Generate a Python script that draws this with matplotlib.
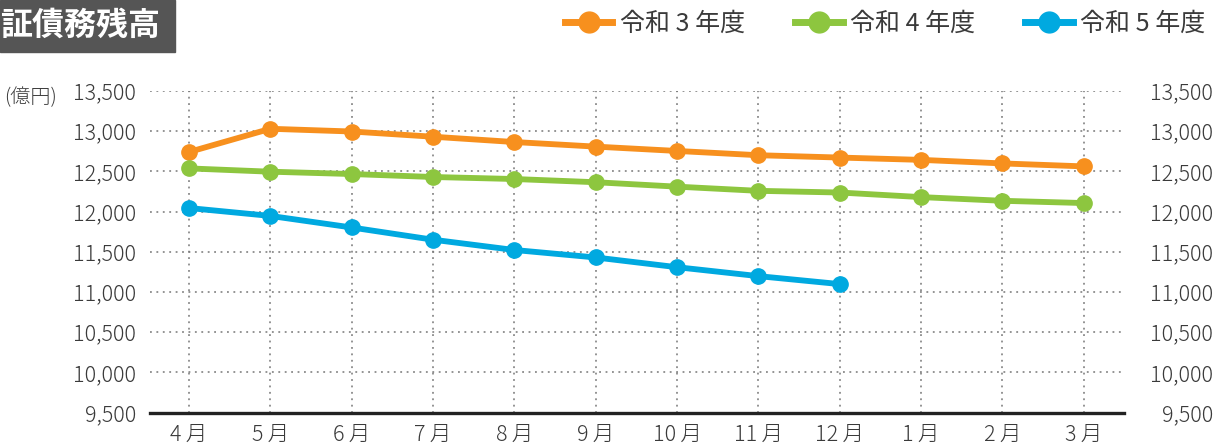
import matplotlib as mpl
mpl.use('Agg')
import matplotlib.pyplot as plt
from matplotlib.patches import Rectangle
from matplotlib.lines import Line2D

plt.rcParams['font.family'] = ['Noto Sans CJK JP', 'DejaVu Sans']

months = ['4\u2009月', '5\u2009月', '6\u2009月', '7\u2009月', '8\u2009月', '9\u2009月',
          '10\u2009月', '11\u2009月', '12\u2009月', '1\u2009月', '2\u2009月', '3\u2009月']
r3 = [12741, 13030, 12996, 12931, 12865, 12808, 12754, 12701, 12672, 12643, 12599, 12562]
r4 = [12537, 12496, 12467, 12430, 12405, 12365, 12310, 12258, 12237, 12180, 12134, 12106]
r5 = [12044, 11946, 11802, 11650, 11522, 11429, 11308, 11197, 11098]
yticks = [9500, 10000, 10500, 11000, 11500, 12000, 12500, 13000, 13500]

series = [('令和 3 年度', r3, '#F7901E'),
          ('令和 4 年度', r4, '#8DC63F'),
          ('令和 5 年度', r5, '#00A9E0')]

txtcol = '#3a3a3a'

fig = plt.figure(figsize=(12.25, 4.46), dpi=100)
ax = fig.add_axes([0.1224, 0.075, 0.7955, 0.721])

x = list(range(len(months)))
handles = []
for name, vals, col in series:
    ax.plot(x[:len(vals)], vals, color=col, lw=4.2, marker='o', ms=11,
            solid_capstyle='round', zorder=3)
    handles.append(Line2D([], [], color=col, lw=5, marker='o', ms=15, label=name))

ax.set_xlim(-0.48, 11.5)
ax.set_ylim(9500, 13500)
ax.set_yticks(yticks)
ax.set_yticklabels([f'{v:,}' for v in yticks])
ax.set_xticks(x)
ax.set_xticklabels(months)
ax.tick_params(length=0, labelsize=15.5, labelcolor=txtcol)
ax.tick_params(axis='y', pad=10)
ax.tick_params(axis='x', pad=8)

# right side labels
ax2 = ax.twinx()
ax2.set_ylim(ax.get_ylim())
ax2.set_yticks(yticks)
ax2.set_yticklabels([f'{v:,}' for v in yticks])
ax2.tick_params(length=0, labelsize=15.5, labelcolor=txtcol, pad=64)
for lab in ax2.get_yticklabels():
    lab.set_horizontalalignment('right')

for a in (ax, ax2):
    for lab in a.get_xticklabels() + a.get_yticklabels():
        lab.set_fontweight('light')

ax.grid(True, color='#777777', ls=(0, (1.2, 3)), lw=1.1)
for a in (ax, ax2):
    for s in ['top', 'left', 'right']:
        a.spines[s].set_visible(False)
ax2.spines['bottom'].set_visible(False)
ax.spines['bottom'].set_linewidth(2.4)
ax.spines['bottom'].set_color('#222222')

fig.text(0.003, 0.782, '(億円)', fontsize=14.5, color=txtcol, va='center',
         fontweight='light')

# title box
fig.patches.append(Rectangle((0, 0.884), 0.143, 0.116, transform=fig.transFigure,
                             color='#555555', zorder=0))
fig.text(0.0655, 0.942, '証債務残高', fontsize=23, color='white', ha='center',
         va='center', fontweight='bold')

fig.legend(handles=handles, loc='center right', ncol=3, frameon=False,
           bbox_to_anchor=(0.984, 0.946), fontsize=18, handlelength=1.9,
           columnspacing=2.0, handletextpad=0.3, labelcolor=txtcol,
           borderpad=0, borderaxespad=0)

fig.savefig('out.png', dpi=100)
